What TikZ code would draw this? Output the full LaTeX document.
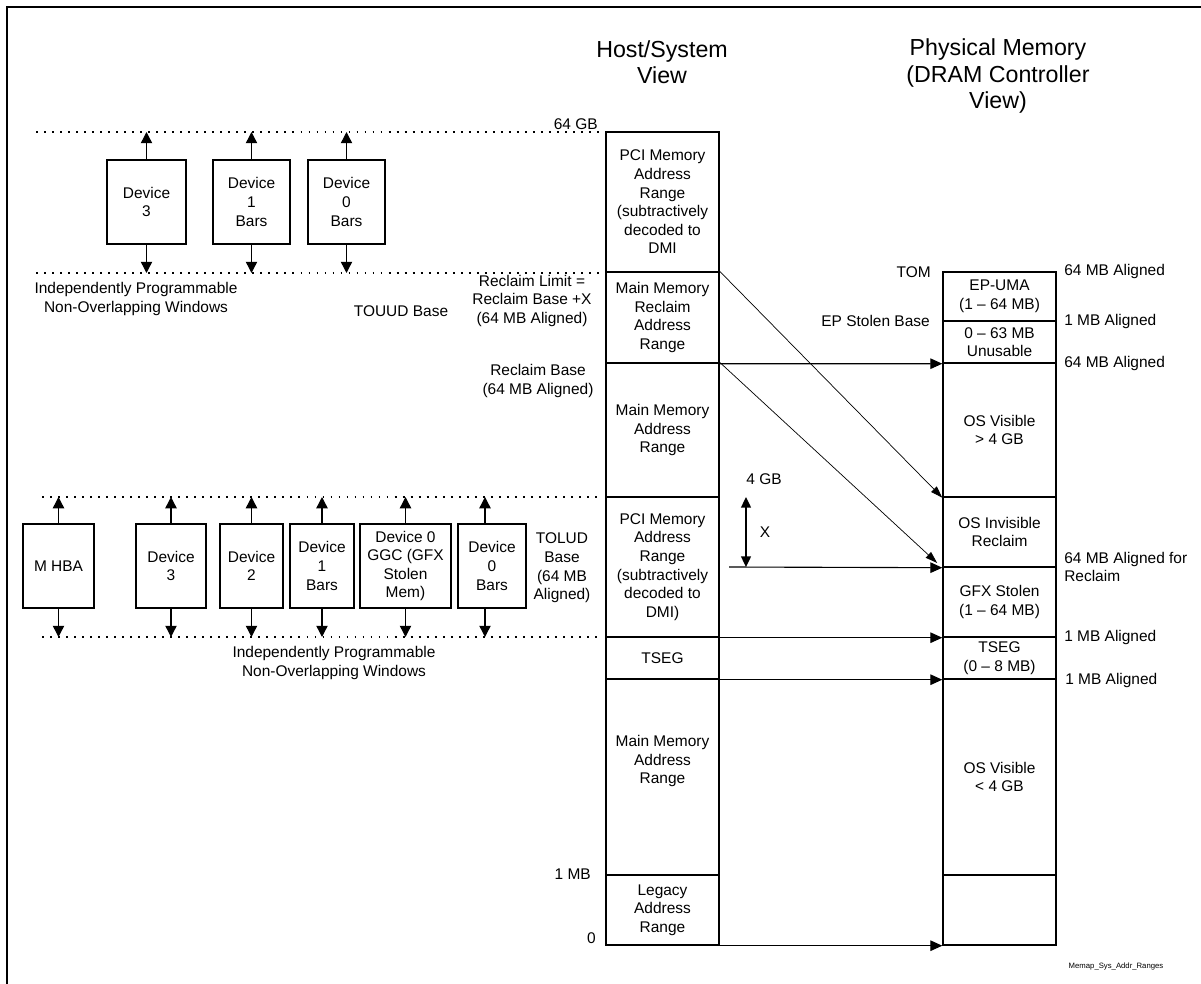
\documentclass[tikz,border=0pt]{standalone}
\usepackage{fontspec}
\setmainfont{Liberation Sans}
\usetikzlibrary{arrows.meta}

\begin{document}
\begin{tikzpicture}[x=0.025cm, y=-0.025cm,
    txt/.style={font=\fontsize{11}{13.2}\selectfont, align=center, inner sep=0pt},
    seg/.style={txt, draw, line width=1pt, minimum width=113*0.025cm},
    dev/.style={txt, draw, line width=1pt, minimum height=84*0.025cm},
    bar/.style={line width=1pt, -{Triangle[length=8pt,width=8pt]}},
    conn/.style={line width=0.8pt, -{Triangle[length=8.5pt,width=7.5pt]}},
    diag/.style={line width=0.5pt, -{Triangle[length=8.5pt,width=5.5pt]}},
    dotline/.style={line width=1.3pt, dash pattern=on 1.3pt off 4.4pt},
    title/.style={font=\fontsize{16.5}{18.5}\selectfont, align=center}]

    \useasboundingbox (0,0) rectangle (1201,984);
    \draw[line width=1.5pt] (7,984) -- (7,7) -- (1201,7);

    % titles
    \node[title] (hosttitle) at (662,62) {Host/System\\View};
    \node[title] (phystitle) at (998,76) {Physical Memory\\(DRAM Controller\\View)};

    % host / system view
    \node[seg, minimum height=140*0.025cm] (pcihigh) at (662.5,202) {PCI Memory\\Address\\Range\\(subtractively\\decoded to\\DMI};
    \node[seg, minimum height=91*0.025cm] (mmrec) at (662.5,317.5) {Main Memory\\Reclaim\\Address\\Range};
    \node[seg, minimum height=134*0.025cm] (mmhigh) at (662.5,430) {Main Memory\\Address\\Range};
    \node[seg, minimum height=140*0.025cm] (pcilow) at (662.5,567) {PCI Memory\\Address\\Range\\(subtractively\\decoded to\\DMI)};
    \node[seg, minimum height=42*0.025cm] (tseg) at (662.5,658) {TSEG};
    \node[seg, minimum height=196*0.025cm] (mmlow) at (662.5,777) {};
    \node[txt] (mmlowtext) at (662.5,761) {Main Memory\\Address\\Range};
    \node[seg, minimum height=70*0.025cm] (legacy) at (662.5,910) {Legacy\\Address\\Range};

    % physical memory view
    \node[seg, minimum height=49*0.025cm] (epuma) at (999.5,296.5) {EP-UMA\\(1 – 64 MB)};
    \node[seg, minimum height=42*0.025cm] (unusable) at (999.5,342) {0 – 63 MB\\Unusable};
    \node[seg, minimum height=134*0.025cm] (oshigh) at (999.5,430) {OS Visible\\> 4 GB};
    \node[seg, minimum height=70*0.025cm] (reclaim) at (999.5,532) {OS Invisible\\Reclaim};
    \node[seg, minimum height=70*0.025cm] (gfx) at (999.5,602) {GFX Stolen\\(1 – 64 MB)};
    \node[seg, minimum height=42*0.025cm] (ptseg) at (999.5,658) {TSEG\\(0 – 8 MB)};
    \node[seg, minimum height=196*0.025cm] (oslow) at (999.5,777) {OS Visible\\< 4 GB};
    \node[seg, minimum height=70*0.025cm] (pbottom) at (999.5,910) {};

    % left side labels
    \node[txt, anchor=east] (gb64) at (598,124) {64 GB};
    \node[txt] (reclimit) at (532,301) {Reclaim Limit =\\Reclaim Base +X\\(64 MB Aligned)};
    \node[txt] (touud) at (401,311) {TOUUD Base};
    \node[txt] (recbase) at (538,381) {Reclaim Base\\(64 MB Aligned)};
    \node[txt] (tolud) at (562,568) {TOLUD\\Base\\(64 MB\\Aligned)};
    \node[txt, anchor=east] (mb1) at (591,874) {1 MB};
    \node[txt, anchor=east] (zero) at (596,938) {0};

    % right side labels
    \node[txt, anchor=east] (tom) at (931,272) {TOM};
    \node[txt, anchor=east] (epbase) at (930,321) {EP Stolen Base};
    \node[txt, anchor=west] (align1) at (1064,272) {64 MB Aligned};
    \node[txt, anchor=west] (align2) at (1064,321) {1 MB Aligned};
    \node[txt, anchor=west] (align3) at (1064,363) {64 MB Aligned};
    \node[txt, anchor=west, align=left] (align4) at (1064,567) {64 MB Aligned for\\Reclaim};
    \node[txt, anchor=west] (align5) at (1064,637) {1 MB Aligned};
    \node[txt, anchor=west] (align6) at (1065,680) {1 MB Aligned};
    \node[font=\fontsize{5.5}{6}\selectfont, inner sep=0pt] (figname) at (1116,966) {Memap\_Sys\_Addr\_Ranges};

    % windows above 4 GB
    \coordinate (top64l) at (36,132);
    \coordinate (top64r) at (603,132);
    \coordinate (touudl) at (36,273);
    \coordinate (touudr) at (603,273);
    \draw[dotline] (top64l) -- (top64r);
    \draw[dotline] (touudl) -- (touudr);

    \node[dev, minimum width=79*0.025cm] (devthreeup) at (146.5,202) {Device\\3};
    \node[dev, minimum width=77*0.025cm] (devoneup) at (251.5,202) {Device\\1\\Bars};
    \node[dev, minimum width=77*0.025cm] (devzeroup) at (346.5,202) {Device\\0\\Bars};
    \node[txt] (winup) at (136,299) {Independently Programmable\\Non-Overlapping Windows};

    \draw[bar] (devthreeup.north) -- (devthreeup.north |- top64l);
    \draw[bar] (devthreeup.south) -- (devthreeup.south |- touudl);
    \draw[bar] (devoneup.north) -- (devoneup.north |- top64l);
    \draw[bar] (devoneup.south) -- (devoneup.south |- touudl);
    \draw[bar] (devzeroup.north) -- (devzeroup.north |- top64l);
    \draw[bar] (devzeroup.south) -- (devzeroup.south |- touudl);

    % windows below 4 GB
    \coordinate (toludl) at (42,497);
    \coordinate (toludr) at (603,497);
    \coordinate (lowl) at (42,637);
    \coordinate (lowr) at (603,637);
    \draw[dotline] (toludl) -- (toludr);
    \draw[dotline] (lowl) -- (lowr);

    \node[dev, minimum width=71*0.025cm] (mhba) at (58.5,566) {M HBA};
    \node[dev, minimum width=70*0.025cm] (devthree) at (171,566) {Device\\3};
    \node[dev, minimum width=63*0.025cm] (devtwo) at (251.5,566) {Device\\2};
    \node[dev, minimum width=64*0.025cm] (devone) at (322,566) {Device\\1\\Bars};
    \node[dev, minimum width=91*0.025cm] (ggc) at (405.5,566) {Device 0\\GGC (GFX\\Stolen\\Mem)};
    \node[dev, minimum width=68*0.025cm] (devzero) at (492,566) {Device\\0\\Bars};
    \node[txt] (winlow) at (334,663) {Independently Programmable\\Non-Overlapping Windows};

    \draw[bar] (mhba.north) -- (mhba.north |- toludl);
    \draw[bar] (mhba.south) -- (mhba.south |- lowl);
    \draw[bar] (devthree.north) -- (devthree.north |- toludl);
    \draw[bar] (devthree.south) -- (devthree.south |- lowl);
    \draw[bar] (devtwo.north) -- (devtwo.north |- toludl);
    \draw[bar] (devtwo.south) -- (devtwo.south |- lowl);
    \draw[bar] (devone.north) -- (devone.north |- toludl);
    \draw[bar] (devone.south) -- (devone.south |- lowl);
    \draw[bar] (ggc.north) -- (ggc.north |- toludl);
    \draw[bar] (ggc.south) -- (ggc.south |- lowl);
    \draw[bar] ([xshift=-7*0.025cm]devzero.north) -- ([xshift=-7*0.025cm]devzero.north |- toludl);
    \draw[bar] ([xshift=-7*0.025cm]devzero.south) -- ([xshift=-7*0.025cm]devzero.south |- lowl);

    % mapping host -> physical
    \coordinate (xtop) at (746,497);
    \coordinate (xbot) at (746,567);
    \coordinate (xstart) at (729,567);
    \node[txt] (gb4) at (764,479) {4 GB};
    \node[txt] (xlabel) at (765,532) {X};

    \draw[conn] (mmrec.south east) -- (unusable.south west);
    \draw[diag] (mmrec.north east) -- (oshigh.south west);
    \draw[diag, shorten >=5pt] (mmhigh.north east) -- (reclaim.south west);
    \draw[conn] (xstart) -- (reclaim.south west);
    \draw[line width=1pt, {Triangle[length=7.5pt,width=7pt]}-{Triangle[length=7.5pt,width=7pt]}] (xtop) -- (xbot);
    \draw[conn] (pcilow.south east) -- (gfx.south west);
    \draw[conn] (tseg.south east) -- (ptseg.south west);
    \draw[conn] (legacy.south east) -- (pbottom.south west);
\end{tikzpicture}
\end{document}
